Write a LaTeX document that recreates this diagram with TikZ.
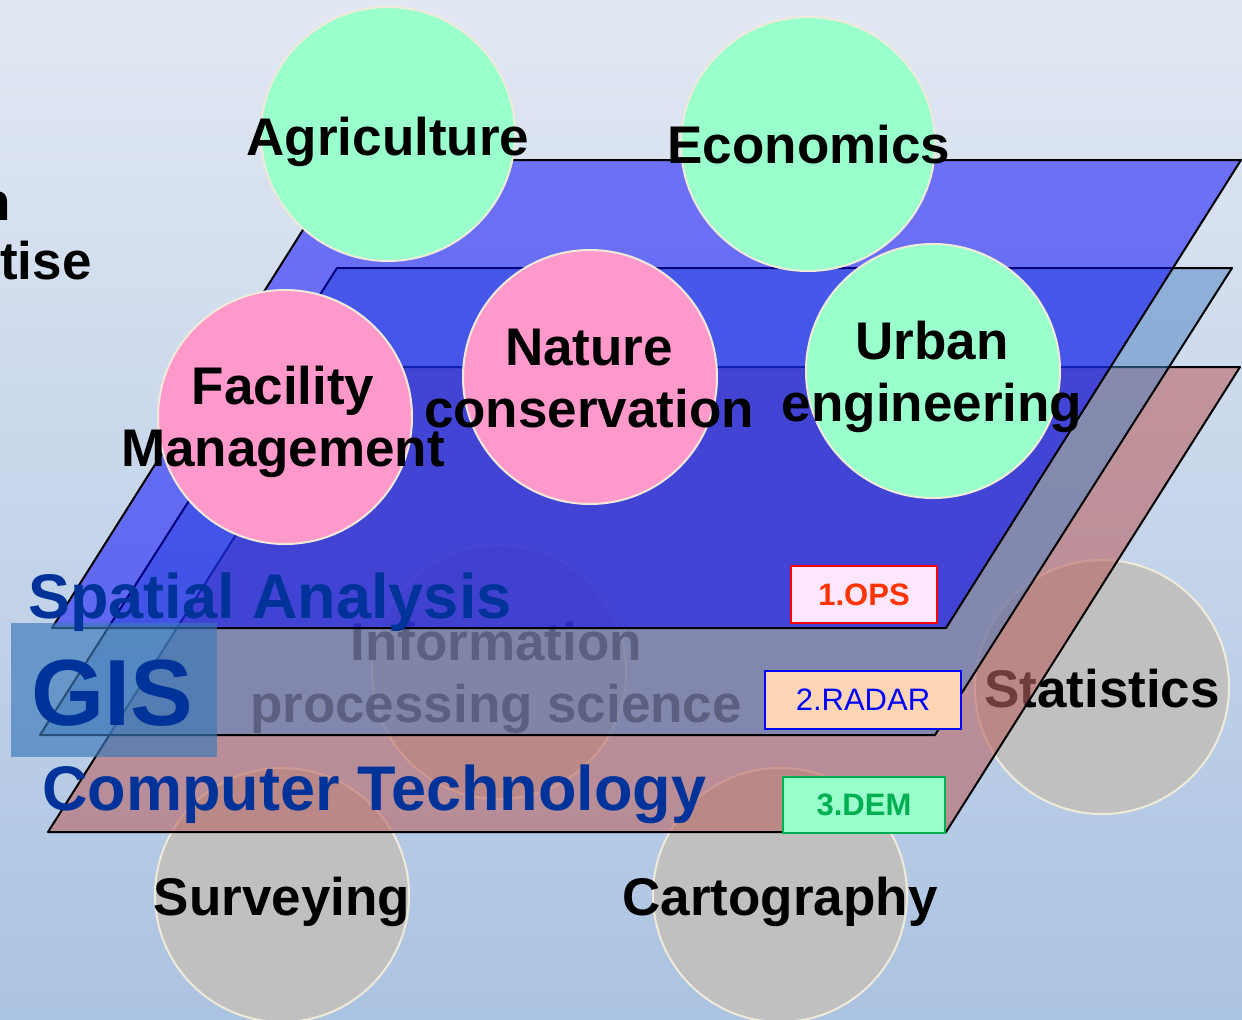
\documentclass[tikz,border=0pt]{standalone}
\usepackage{fontspec}
\setmainfont{Liberation Sans}
\usepackage{tikz}
\usetikzlibrary{positioning,calc}
\tikzset{>=stealth}
\definecolor{bgtop}{RGB}{226,232,243}
\definecolor{bgbot}{RGB}{171,195,226}
\definecolor{ballgreen}{RGB}{153,255,204}
\definecolor{ballpink}{RGB}{255,153,204}
\definecolor{ballgray}{RGB}{192,192,192}
\definecolor{ballrim}{RGB}{240,234,216}
\definecolor{layerbot}{RGB}{185,100,100}
\definecolor{layermid}{RGB}{74,130,195}
\definecolor{layertop}{RGB}{0,0,250}
\definecolor{gisblue}{RGB}{0,51,153}
\definecolor{gisbox}{RGB}{60,120,185}
\definecolor{opsred}{RGB}{255,51,0}
\definecolor{opsfill}{RGB}{255,230,255}
\definecolor{radarfill}{RGB}{252,213,181}
\definecolor{demgreen}{RGB}{0,176,80}
\tikzset{
  ball/.style={circle,draw=ballrim,line width=1pt,minimum size=127pt,inner sep=0pt},
  bigText/.style={font=\fontsize{26.5}{31}\selectfont\bfseries,inner sep=0pt},
  ballText/.style={bigText,align=center},
  titleText/.style={font=\fontsize{31.5}{36}\selectfont\bfseries,text=gisblue,inner sep=0pt,anchor=base west},
  layer/.style={draw=black,line width=1pt,line join=round},
  tagBox/.style={draw,line width=1pt,inner sep=0pt,font=\fontsize{15.5}{18}\selectfont}
}

\begin{document}
\begin{tikzpicture}[x=0.5pt,y=-0.5pt]
\useasboundingbox (0,0) rectangle (1242,1019);
\clip (0,0) rectangle (1242,1019);
\shade[top color=bgtop,bottom color=bgbot] (0,0) rectangle (1242,1019);

\node[bigText,anchor=base east] (domain) at (11,220) {Domain};
\node[bigText,anchor=base east] (expertise) at (92,279) {expertise};

% base disciplines, seen through the layers
\node[ball,fill=ballgray] (info) at (499,672) {};
\node[ball,fill=ballgray] (stat) at (1102,687) {};
\node[ball,fill=ballgray] (surv) at (282,895) {};
\node[ball,fill=ballgray] (carto) at (780,895) {};
\node[ballText] (infotxt) at (496,678) {Information\\processing science};
\node[bigText,anchor=base] (stattxt) at (1102,707) {Statistics};
\node[bigText,anchor=base] (survtxt) at (282,915) {Surveying};
\node[bigText,anchor=base] (cartotxt) at (780,915) {Cartography};

% the three layers
\coordinate (B1) at (48,832);
\coordinate (B2) at (946,832);
\coordinate (B3) at (1240,367);
\coordinate (B4) at (342,367);
\coordinate (M1) at (40,735);
\coordinate (M2) at (935,735);
\coordinate (M3) at (1232,268);
\coordinate (M4) at (337,268);
\coordinate (T1) at (52,628);
\coordinate (T2) at (946,628);
\coordinate (T3) at (1241,160);
\coordinate (T4) at (347,160);
\draw[layer,fill=layerbot,fill opacity=.6] (B1) -- (B2) -- (B3) -- (B4) -- cycle;
\draw[layer,fill=layermid,fill opacity=.5] (M1) -- (M2) -- (M3) -- (M4) -- cycle;
\draw[layer,fill=layertop,fill opacity=.5] (T1) -- (T2) -- (T3) -- (T4) -- cycle;

% application fields on top
\node[ball,fill=ballgreen] (agri) at (388,134) {};
\node[ball,fill=ballgreen] (econ) at (808,144) {};
\node[ball,fill=ballpink] (facil) at (285,417) {};
\node[ball,fill=ballpink] (nature) at (590,377) {};
\node[ball,fill=ballgreen] (urban) at (933,371) {};
\node[bigText,anchor=base] (agritxt) at (388,155) {Agriculture};
\node[bigText,anchor=base] (econtxt) at (809,163) {Economics};
\node[ballText] (faciltxt) at (283,422) {Facility\\Management};
\node[ballText] (naturetxt) at (589,379) {Nature\\conservation};
\node[ballText] (urbantxt) at (932,377) {Urban\\engineering};

\fill[gisbox,fill opacity=.65] (11,623) rectangle (217,757);
\node[titleText] (spatial) at (28,618) {Spatial Analysis};
\node[titleText,font=\fontsize{47}{50}\selectfont\bfseries] (gis) at (31,725) {GIS};
\node[titleText] (comptech) at (42,810) {Computer Technology};

\node[tagBox,draw=red,fill=opsfill,text=opsred,font=\fontsize{15.5}{18}\selectfont\bfseries,
  minimum width=73pt,minimum height=28.5pt] (ops) at (864,594.5) {1.OPS};
\node[tagBox,draw=blue,fill=radarfill,text=blue,
  minimum width=98pt,minimum height=29pt] (radar) at (863,700) {2.RADAR};
\node[tagBox,draw=demgreen,fill=ballgreen,text=demgreen,font=\fontsize{15.5}{18}\selectfont\bfseries,
  minimum width=81pt,minimum height=28pt] (dem) at (864,805) {3.DEM};
\end{tikzpicture}
\end{document}
